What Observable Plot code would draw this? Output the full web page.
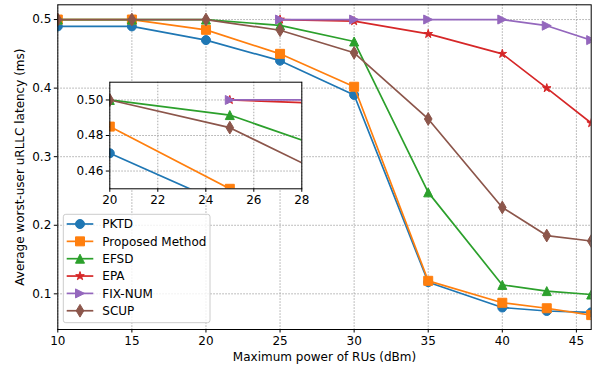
<!DOCTYPE html>
<html><head><meta charset="utf-8">
<script src="https://cdn.jsdelivr.net/npm/d3@7"></script>
<script src="https://cdn.jsdelivr.net/npm/@observablehq/plot@0.6"></script>
<style>
body{margin:0;background:#fff;}
#chart{position:relative;width:600px;height:368px;font-family:"DejaVu Sans",sans-serif;}
#chart svg{position:absolute;left:0;top:0;}
</style></head><body><div id="chart"></div>
<script>
// ---- data ----
const xValues = [10, 15, 20, 25, 30, 35, 40, 43, 46];
const pktd     = [0.490, 0.490, 0.470, 0.440, 0.390, 0.117, 0.080, 0.075, 0.073];
const proposed = [0.500, 0.500, 0.485, 0.450, 0.402, 0.119, 0.087, 0.079, 0.069];
const efsd     = [0.500, 0.500, 0.500, 0.4915, 0.468, 0.248, 0.113, 0.104, 0.099];
const epa      = [null, null, null, 0.500, 0.4976, 0.479, 0.450, 0.400, 0.349];
const fixnum   = [null, null, null, 0.500, 0.500, 0.500, 0.500, 0.491, 0.470];
const scup     = [0.500, 0.500, 0.500, 0.4844, 0.4515, 0.355, 0.226, 0.185, 0.177];
const seriesNames = ["PKTD", "Proposed Method", "EFSD", "EPA", "FIX-NUM", "SCUP"];
const seriesValues = [pktd, proposed, efsd, epa, fixnum, scup];
const seriesColors = ["#1f77b4", "#ff7f0e", "#2ca02c", "#d62728", "#9467bd", "#8c564b"];
const seriesMarkers = ["circle", "square", "triUp", "star", "triRight", "thinDiamond"];
const xTicks = [10, 15, 20, 25, 30, 35, 40, 45];
const yTicks = [0.1, 0.2, 0.3, 0.4, 0.5];
const insetXTicks = [20, 22, 24, 26, 28];
const insetYTicks = [0.46, 0.48, 0.50];
const xLabel = "Maximum power of RUs (dBm)";
const yLabel = "Average worst-user uRLLC latency (ms)";

// ---- marker shapes (matplotlib-like) ----
const MS = 9;
const symbolDefs = {
  circle: {draw(c){const r=MS/2; c.moveTo(r,0); c.arc(0,0,r,0,2*Math.PI); c.closePath();}},
  square: {draw(c){const h=MS/2; c.moveTo(-h,-h); c.lineTo(h,-h); c.lineTo(h,h); c.lineTo(-h,h); c.closePath();}},
  triUp: {draw(c){const h=MS/2; c.moveTo(0,-h); c.lineTo(h,h); c.lineTo(-h,h); c.closePath();}},
  triRight: {draw(c){const h=MS/2; c.moveTo(h,0); c.lineTo(-h,h); c.lineTo(-h,-h); c.closePath();}},
  star: {draw(c){const R=MS/2, r=R*0.381966; for(let i=0;i<10;i++){const a=-Math.PI/2+i*Math.PI/5, rr=i%2?r:R; const px=rr*Math.cos(a), py=rr*Math.sin(a); if(i===0)c.moveTo(px,py); else c.lineTo(px,py);} c.closePath();}},
  thinDiamond: {draw(c){const hy=MS*0.7071, hx=hy*0.6; c.moveTo(0,-hy); c.lineTo(hx,0); c.lineTo(0,hy); c.lineTo(-hx,0); c.closePath();}}
};

const series = seriesNames.map((name, i) => ({
  name, color: seriesColors[i], symbol: symbolDefs[seriesMarkers[i]],
  data: xValues.map((x, j) => ({x, y: seriesValues[i][j]})).filter(d => d.y != null)
}));

function seriesMarks() {
  const m = [];
  for (const s of series) {
    m.push(Plot.line(s.data, {x: "x", y: "y", stroke: s.color, strokeWidth: 1.7, clip: true}));
    m.push(Plot.dot(s.data, {x: "x", y: "y", symbol: s.symbol, r: 4.5, fill: s.color, stroke: s.color, strokeWidth: 1, clip: true}));
  }
  return m;
}
const gridStyle = {stroke: "#a0a0a0", strokeOpacity: 1, strokeWidth: 0.9, strokeDasharray: "1.5,1.5"};
const style = {background: "transparent", fontFamily: "DejaVu Sans", fontSize: "12px", color: "black", overflow: "visible"};

const main = Plot.plot({
  width: 600, height: 368,
  marginLeft: 57.3, marginRight: 9.3, marginTop: 4.3, marginBottom: 39,
  style,
  x: {domain: [10, 46], label: null},
  y: {domain: [0.048, 0.5215], label: null},
  marks: [
    Plot.gridX(xTicks, gridStyle),
    Plot.gridY(yTicks, gridStyle),
    ...seriesMarks(),
    Plot.frame({stroke: "black", strokeWidth: 1}),
    Plot.axisX({ticks: xTicks, tickSize: 3.5, tickPadding: 3, label: null}),
    Plot.axisY({ticks: yTicks, tickFormat: d3.format(".1f"), tickSize: 3.5, tickPadding: 3, label: null}),
    Plot.text([xLabel], {frameAnchor: "bottom", textAnchor: "middle", lineAnchor: "middle", dy: 27.5, fontSize: 12, fill: "black"}),
    Plot.text([yLabel], {frameAnchor: "left", textAnchor: "middle", lineAnchor: "middle", rotate: -90, dx: -38, fontSize: 12, fill: "black"})
  ]
});
document.getElementById("chart").appendChild(main);

const inset = Plot.plot({
  width: 600, height: 368,
  marginLeft: 109.3, marginRight: 298.7, marginTop: 81.7, marginBottom: 179.7,
  style,
  x: {domain: [20, 28], label: null},
  y: {domain: [0.45, 0.51], label: null},
  marks: [
    Plot.frame({fill: "white", stroke: "none"}),
    Plot.gridX(insetXTicks, gridStyle),
    Plot.gridY(insetYTicks, gridStyle),
    ...seriesMarks(),
    Plot.frame({stroke: "black", strokeWidth: 1}),
    Plot.axisX({ticks: insetXTicks, tickSize: 3.5, tickPadding: 3, label: null}),
    Plot.axisY({ticks: insetYTicks, tickFormat: d3.format(".2f"), tickSize: 3.5, tickPadding: 3, label: null})
  ]
});
inset.style.pointerEvents = "none";
document.getElementById("chart").appendChild(inset);

// ---- legend ----
const lg = d3.create("svg").attr("width", 600).attr("height", 368)
  .style("font-family", "DejaVu Sans").style("font-size", "12px");
const L = {x: 63.3, y: 214.3, w: 146.7, h: 108.4};
lg.append("rect").attr("x", L.x).attr("y", L.y).attr("width", L.w).attr("height", L.h)
  .attr("rx", 2.5).attr("fill", "white").attr("fill-opacity", 0.8).attr("stroke", "#cccccc").attr("stroke-width", 1);
series.forEach((s, i) => {
  const cy = 224 + i * 17.35;
  lg.append("line").attr("x1", 66.7).attr("x2", 93.3).attr("y1", cy).attr("y2", cy)
    .attr("stroke", s.color).attr("stroke-width", 1.7);
  const p = d3.path(); s.symbol.draw(p);
  lg.append("path").attr("d", p.toString()).attr("transform", `translate(80,${cy})`)
    .attr("fill", s.color).attr("stroke", s.color).attr("stroke-width", 1);
  lg.append("text").attr("x", 102.3).attr("y", cy).attr("dy", "0.35em").attr("fill", "black").text(s.name);
});
document.getElementById("chart").appendChild(lg.node());
</script></body></html>
